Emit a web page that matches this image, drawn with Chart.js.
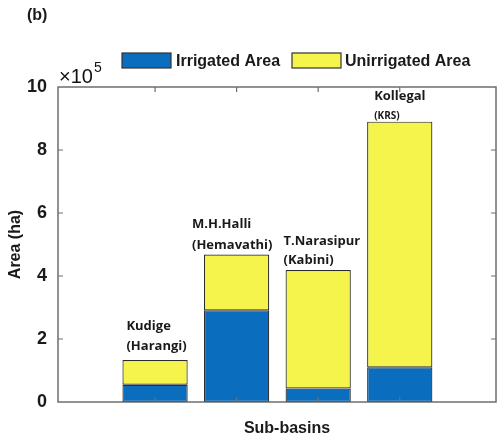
<!DOCTYPE html>
<html>
<head>
<meta charset="utf-8">
<script src="https://cdn.jsdelivr.net/npm/chart.js@4"></script>
<style>
html,body{margin:0;padding:0;background:#fff;}
#wrap{width:503px;height:438px;position:relative;}
</style>
</head>
<body>
<div id="wrap"><canvas id="c" width="503" height="438"></canvas></div>
<script>
// ---- data (areas in units of 10^5 ha) ----
const categories = ['Kudige', 'M.H.Halli', 'T.Narasipur', 'Kollegal'];
const subLabels = ['(Harangi)', '(Hemavathi)', '(Kabini)', '(KRS)'];
const irrigated = [0.55, 2.91, 0.43, 1.10];
const unirrigated = [0.78, 1.77, 3.76, 7.80];
const yTicks = [0, 2, 4, 6, 8, 10];
const exponent = 5;
const seriesNames = ['Irrigated Area', 'Unirrigated Area'];

// ---- style ----
const BLUE = '#0b6dbd';
const YELLOW = '#f4f44c';
const EDGE = '#2b2b2b';
const AXIS = '#6e6e6e';
// label offsets (px) relative to bar left edge / bar top
const labelStyle = [
  {dx: 4,  d1: -34, d2: -14, small: false},
  {dx: -12, d1: -30, d2: -9, small: false},
  {dx: -2, d1: -29, d2: -10, small: false},
  {dx: 7,  d1: -25, d2: -5, small: true}
];

const xs = categories.map((_, i) => i + 1);
const totals = irrigated.map((v, i) => v + unirrigated[i]);

const decor = {
  id: 'decor',
  afterDraw(chart) {
    const ctx = chart.ctx;
    const a = chart.chartArea;
    const xS = chart.scales.x, yS = chart.scales.y;
    ctx.save();
    // box
    ctx.strokeStyle = AXIS;
    ctx.lineWidth = 1.5;
    ctx.strokeRect(a.left, a.top, a.right - a.left, a.bottom - a.top);
    // inward ticks
    ctx.lineWidth = 1.2;
    ctx.beginPath();
    yTicks.forEach(t => {
      if (t === yTicks[0] || t === yTicks[yTicks.length - 1]) return;
      const py = yS.getPixelForValue(t);
      ctx.moveTo(a.left, py); ctx.lineTo(a.left + 5, py);
      ctx.moveTo(a.right, py); ctx.lineTo(a.right - 5, py);
    });
    xs.forEach(x => {
      const px = xS.getPixelForValue(x);
      ctx.moveTo(px, a.bottom); ctx.lineTo(px, a.bottom - 5);
      ctx.moveTo(px, a.top); ctx.lineTo(px, a.top + 5);
    });
    ctx.stroke();

    // (b)
    ctx.fillStyle = '#1a1a1a';
    ctx.textBaseline = 'alphabetic';
    ctx.textAlign = 'left';
    ctx.font = 'bold 16px "Liberation Sans", Arial, sans-serif';
    ctx.fillText('(b)', 27, 20);

    // x10^5
    ctx.fillStyle = '#111';
    ctx.font = '20px "Liberation Sans", Arial, sans-serif';
    ctx.fillText('\u00d710', 59, 83);
    const w = ctx.measureText('\u00d710').width;
    ctx.font = '14px "Liberation Sans", Arial, sans-serif';
    ctx.fillText(String(exponent), 59 + w + 1, 72);

    // legend
    const ds = chart.data.datasets;
    const legendItems = [{bx: 122, tx: 176}, {bx: 292, tx: 345}];
    ds.forEach((d, i) => {
      const li = legendItems[i];
      ctx.fillStyle = d.backgroundColor;
      ctx.fillRect(li.bx, 53, 49, 15);
      ctx.strokeStyle = '#333';
      ctx.lineWidth = 1.2;
      ctx.strokeRect(li.bx, 53, 49, 15);
      ctx.fillStyle = '#1a1a1a';
      ctx.font = 'bold 16px "Liberation Sans", Arial, sans-serif';
      ctx.textBaseline = 'middle';
      ctx.fillText(d.label, li.tx, 62);
    });

    // bar labels
    const meta = chart.getDatasetMeta(1);
    ctx.textBaseline = 'middle';
    categories.forEach((name, i) => {
      const bar = meta.data[i];
      const left = bar.x - bar.width / 2;
      const top = yS.getPixelForValue(totals[i]);
      const st = labelStyle[i];
      ctx.fillStyle = '#1a1a1a';
      ctx.font = '700 13px "Open Sans", sans-serif';
      ctx.fillText(name, left + st.dx, top + st.d1);
      ctx.font = st.small ? '700 10px "Open Sans", sans-serif' : '700 13px "Open Sans", sans-serif';
      ctx.fillText(subLabels[i], left + st.dx, top + st.d2);
    });

    // x title
    ctx.fillStyle = '#1a1a1a';
    ctx.textAlign = 'center';
    ctx.font = 'bold 16px "Liberation Sans", Arial, sans-serif';
    ctx.fillText('Sub-basins', 287, 429);
    ctx.restore();
  }
};

new Chart(document.getElementById('c'), {
  type: 'bar',
  data: {
    datasets: [
      {
        label: seriesNames[0],
        data: xs.map((x, i) => ({x, y: irrigated[i]})),
        backgroundColor: BLUE,
        borderColor: EDGE,
        borderWidth: 1.2,
        borderSkipped: false
      },
      {
        label: seriesNames[1],
        data: xs.map((x, i) => ({x, y: unirrigated[i]})),
        backgroundColor: YELLOW,
        borderColor: EDGE,
        borderWidth: 1.2,
        borderSkipped: false
      }
    ]
  },
  plugins: [decor],
  options: {
    responsive: false,
    animation: false,
    devicePixelRatio: 1,
    barPercentage: 0.8,
    categoryPercentage: 1,
    layout: {padding: {left: 0, right: 7, top: 87, bottom: 0}},
    plugins: {legend: {display: false}, tooltip: {enabled: false}, title: {display: false}},
    scales: {
      x: {
        type: 'linear',
        stacked: true,
        offset: false,
        min: -0.19,
        max: 5.18,
        grid: {display: false, offset: false},
        border: {display: false},
        ticks: {display: false},
        afterFit(s) { s.height = 36; }
      },
      y: {
        stacked: true,
        min: 0,
        max: 10,
        afterBuildTicks(s) { s.ticks = yTicks.map(v => ({value: v})); },
        grid: {display: false},
        border: {display: false},
        ticks: {
          padding: 3,
          color: '#1a1a1a',
          font: {family: '"Liberation Sans", Arial, sans-serif', size: 18, weight: 'bold'}
        },
        title: {
          display: true,
          text: 'Area (ha)',
          color: '#1a1a1a',
          padding: {top: 6, bottom: 0},
          font: {family: '"Liberation Sans", Arial, sans-serif', size: 16, weight: 'bold'}
        },
        afterFit(s) { s.width = 58; }
      }
    }
  }
});
</script>
</body>
</html>
